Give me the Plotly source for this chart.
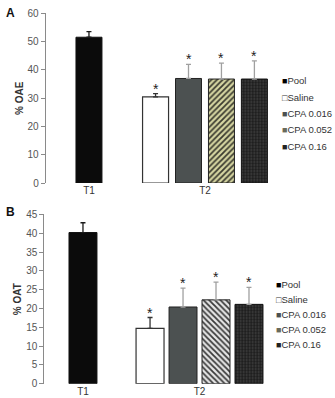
import plotly.graph_objects as go

# ---------------- data ----------------
series = ["Pool", "Saline", "CPA 0.016", "CPA 0.052", "CPA 0.16"]
timepoint = ["T1", "T2", "T2", "T2", "T2"]
categories = ["T1", "T2"]

oae_mean = [51.6, 30.5, 37.0, 36.8, 36.8]
oae_err = [2.0, 1.1, 5.0, 5.6, 6.4]
oae_sig = [False, True, True, True, True]

oat_mean = [40.2, 14.7, 20.4, 22.3, 21.1]
oat_err = [2.6, 2.9, 5.0, 4.7, 4.5]
oat_sig = [False, True, True, True, True]

# ---------------- styles ----------------
FONT = "Liberation Sans, Arial, sans-serif"
AX = "#8a8a8a"
TXT = "#555555"

def styles(panel):
    hatch_bg = "#d6d6a2" if panel == "A" else "#e6e6e6"
    hatch_fg = "#3c3c30" if panel == "A" else "#3a3a3a"
    hatch_shape = "/" if panel == "A" else "\\"
    return [
        dict(color="#0b0b0b", line=dict(color="#111111", width=1)),
        dict(color="#ffffff", line=dict(color="#333333", width=1.2)),
        dict(color="#4c5151", line=dict(color="#222222", width=1)),
        dict(color=hatch_bg, line=dict(color="#222222", width=1),
             pattern=dict(shape=hatch_shape, bgcolor=hatch_bg, fgcolor=hatch_fg,
                          size=4, solidity=0.45)),
        dict(color="#1c1c1c", line=dict(color="#111111", width=1),
             pattern=dict(shape=".", bgcolor="#1c1c1c", fgcolor="#4a4a4a",
                          size=3, solidity=0.3)),
    ]

err_colors = ["#1a1a1a", "#333333", "#a0a0a0", "#a0a0a0", "#a0a0a0"]
legend_glyph = ["■", "□", "■", "■", "■"]
legend_glyph_color = ["#000000", "#333333", "#4c5151", "#6a6a5a", "#222222"]

panels = [
    dict(name="A", mean=oae_mean, err=oae_err, sig=oae_sig, title="% OAE",
         xd=[0.1364, 0.8806], yd=[0.5402, 0.9661], xr=[-0.373, 1.776],
         yr=[0, 60], dt=10, bw=0.224, sp=0.284,
         leg_x=280 / 335, leg_y0=81, leg_step=16.3, lab_y=13),
    dict(name="B", mean=oat_mean, err=oat_err, sig=oat_sig, title="% OAT",
         xd=[0.1322, 0.8537], yd=[0.0359, 0.4611], xr=[-0.332, 1.742],
         yr=[0, 45], dt=5, bw=0.240, sp=0.283,
         leg_x=274 / 335, leg_y0=284, leg_step=15.0, lab_y=212),
]

fig = go.Figure()
annotations = []
H = 398

for p_i, P in enumerate(panels):
    xa = "x" if p_i == 0 else "x2"
    ya = "y" if p_i == 0 else "y2"
    st = styles(P["name"])
    counts = {c: timepoint.count(c) for c in categories}
    seen = {c: 0 for c in categories}
    for i, s in enumerate(series):
        c = timepoint[i]
        k = seen[c]
        seen[c] += 1
        center_off = (k - (counts[c] - 1) / 2) * P["sp"]
        fig.add_trace(go.Bar(
            x=[c], y=[P["mean"][i]], name=s, showlegend=False,
            xaxis=xa, yaxis=ya,
            width=P["bw"], offset=center_off - P["bw"] / 2,
            marker=st[i],
            error_y=dict(type="data", array=[P["err"][i]], arrayminus=[0],
                         symmetric=False, color=err_colors[i],
                         thickness=1.3, width=2.5),
        ))
        if P["sig"][i]:
            annotations.append(dict(
                x=categories.index(c) + center_off, y=P["mean"][i] + P["err"][i],
                xref=xa, yref=ya, text="*", showarrow=False,
                font=dict(family=FONT, size=14, color="#222222"),
                xanchor="center", yanchor="middle", yshift=5,
            ))
    # legend (text entries)
    for i, s in enumerate(series):
        annotations.append(dict(
            x=P["leg_x"], y=1 - (P["leg_y0"] + i * P["leg_step"]) / H,
            xref="paper", yref="paper", xanchor="left", yanchor="middle",
            showarrow=False,
            text=(f'<span style="color:{legend_glyph_color[i]};font-size:9px">'
                  f'{legend_glyph[i]}</span>{s}'),
            font=dict(family=FONT, size=9.5, color="#333333"),
        ))
    # panel label
    annotations.append(dict(
        x=4 / 335, y=1 - P["lab_y"] / H, xref="paper", yref="paper",
        xanchor="left", yanchor="middle", showarrow=False,
        text=f"<b>{P['name']}</b>", font=dict(family=FONT, size=12, color="#111111"),
    ))

    xaxis = dict(domain=P["xd"], range=P["xr"], type="category",
                 categoryorder="array", categoryarray=categories,
                 anchor=ya, showline=False, ticks="", showgrid=False,
                 zeroline=False, color="#333333",
                 tickfont=dict(family=FONT, size=10, color="#333333"))
    yaxis = dict(domain=P["yd"], range=P["yr"], dtick=P["dt"], anchor=xa,
                 showline=True, linecolor=AX, linewidth=1, ticks="outside",
                 ticklen=4, tickcolor=AX, showgrid=False, zeroline=False,
                 tickfont=dict(family=FONT, size=10, color=TXT),
                 title=dict(text=f"<b>{P['title']}</b>", standoff=2,
                            font=dict(family=FONT, size=10, color="#333333")))
    over = dict(overlaying=xa, anchor=ya, range=[0, 2], tickvals=[0, 1, 2],
                ticks="outside", ticklen=4, tickcolor=AX, showticklabels=False,
                showline=True, linecolor=AX, linewidth=1, showgrid=False,
                zeroline=False)
    if p_i == 0:
        fig.update_layout(xaxis=xaxis, yaxis=yaxis, xaxis3=over)
    else:
        fig.update_layout(xaxis2=xaxis, yaxis2=yaxis, xaxis4=over)

fig.update_layout(
    template="none",
    width=335, height=398, margin=dict(l=0, r=0, t=0, b=0),
    paper_bgcolor="white", plot_bgcolor="white",
    barmode="overlay", showlegend=False,
    annotations=annotations,
    font=dict(family=FONT, color="#333333"),
)

fig.write_html("out.html")
